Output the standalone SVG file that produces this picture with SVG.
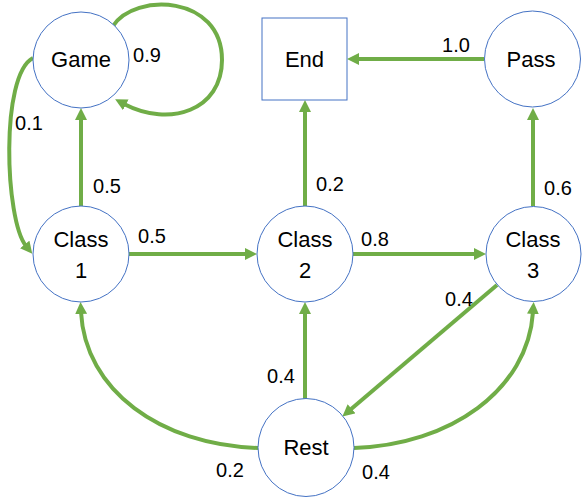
<svg xmlns="http://www.w3.org/2000/svg" width="588" height="500" viewBox="0 0 588 500">
<style>
.node{fill:#fff;stroke:#4472C4;stroke-width:1}
.nt{font-family:"Liberation Sans",Arial,sans-serif;font-size:22px;fill:#000;text-anchor:middle}
.lb{font-family:"Liberation Sans",Arial,sans-serif;font-size:20px;fill:#000;text-anchor:middle}
.e{fill:none;stroke:#70AD47;stroke-width:4;marker-end:url(#ah)}
</style>
<defs>
<marker id="ah" markerUnits="userSpaceOnUse" markerWidth="13" markerHeight="13" refX="2" refY="6" orient="auto">
<path d="M0,0 L12,6 L0,12 z" fill="#70AD47"/>
</marker>
</defs>
<rect width="588" height="500" fill="#fff"/>
<g id="connectors">
<path class="e" d="M113,26 C135,-8 222,-5 222,60 C222,110 170,128 124,104"/>
<path class="e" d="M33,58 C0,75 5,220 26,246"/>
<path class="e" d="M81,206 L81,118"/>
<path class="e" d="M129,254 L247,254"/>
<path class="e" d="M305,206 L305,110"/>
<path class="e" d="M353,254 L476,254"/>
<path class="e" d="M533,206 L533,118"/>
<path class="e" d="M484,59 L357,59"/>
<path class="e" d="M305,399 L305,312"/>
<path class="e" d="M497,285 L350,410"/>
<path class="e" d="M258,448 C160,445 85,390 81,312"/>
<path class="e" d="M354,448 C450,445 528,390 533,312"/>
</g>
<g id="labels">
<text class="lb" x="147" y="62">0.9</text>
<text class="lb" x="29" y="130">0.1</text>
<text class="lb" x="107" y="193">0.5</text>
<text class="lb" x="152" y="243">0.5</text>
<text class="lb" x="456" y="52">1.0</text>
<text class="lb" x="330" y="191">0.2</text>
<text class="lb" x="375" y="246">0.8</text>
<text class="lb" x="558" y="195">0.6</text>
<text class="lb" x="459" y="306">0.4</text>
<text class="lb" x="281" y="383">0.4</text>
<text class="lb" x="230" y="477">0.2</text>
<text class="lb" x="376" y="479">0.4</text>
</g>
<g id="game"><circle class="node" cx="81" cy="60" r="48"/><text class="nt" x="81" y="67">Game</text></g>
<g id="end"><rect class="node" x="262" y="18" width="85" height="82"/><text class="nt" x="304.5" y="67">End</text></g>
<g id="pass"><circle class="node" cx="532.5" cy="59" r="48"/><text class="nt" x="531" y="67">Pass</text></g>
<g id="class1"><circle class="node" cx="81" cy="254" r="48"/><text class="nt" x="81" y="247">Class</text><text class="nt" x="81" y="278">1</text></g>
<g id="class2"><circle class="node" cx="305" cy="254" r="48"/><text class="nt" x="305" y="247">Class</text><text class="nt" x="305" y="278">2</text></g>
<g id="class3"><circle class="node" cx="533.5" cy="254" r="47.5"/><text class="nt" x="533" y="247">Class</text><text class="nt" x="533" y="278">3</text></g>
<g id="rest"><ellipse class="node" cx="306" cy="447.5" rx="48" ry="49"/><text class="nt" x="306" y="455">Rest</text></g>
</svg>
